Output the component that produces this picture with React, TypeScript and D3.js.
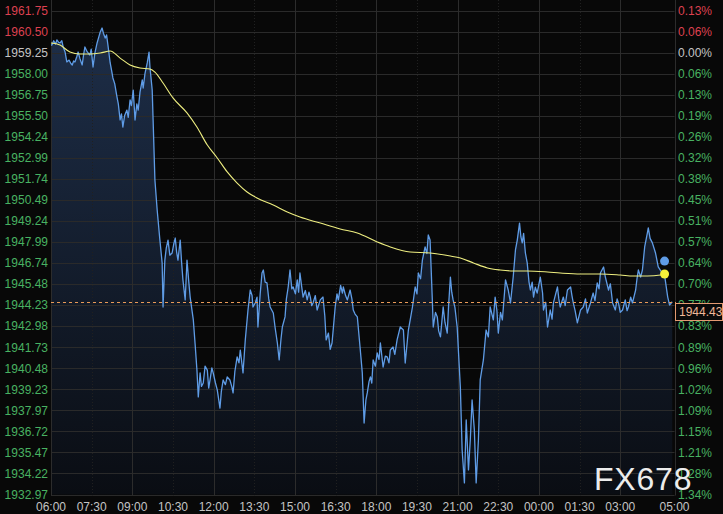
import React, { useEffect, useRef } from 'react';
import * as d3 from 'd3';

const WIDTH = 723;
const HEIGHT = 514;

// left axis price levels, top to bottom
const priceLabels = [
  '1961.75', '1960.50', '1959.25', '1958.00', '1956.75', '1955.50', '1954.24', '1952.99',
  '1951.74', '1950.49', '1949.24', '1947.99', '1946.74', '1945.48', '1944.23', '1942.98',
  '1941.73', '1940.48', '1939.23', '1937.97', '1936.72', '1935.47', '1934.22', '1932.97',
];

// right axis change vs previous close, same rows
const pctLabels = [
  '0.13%', '0.06%', '0.00%', '0.06%', '0.13%', '0.19%', '0.26%', '0.32%',
  '0.38%', '0.45%', '0.51%', '0.57%', '0.64%', '0.70%', '0.77%', '0.83%',
  '0.89%', '0.96%', '1.02%', '1.09%', '1.15%', '1.21%', '1.28%', '1.34%',
];
const ZERO_ROW = 2;

// minutes after 06:00
const timeTicks = [0, 90, 180, 270, 360, 450, 540, 630, 720, 810, 900, 990, 1080, 1170, 1260, 1380];
const timeLabels = [
  '06:00', '07:30', '09:00', '10:30', '12:00', '13:30', '15:00', '16:30',
  '18:00', '19:30', '21:00', '22:30', '00:00', '01:30', '03:00', '05:00',
];

// [minutes after 06:00, price]
const priceSeries: [number, number][] = [
  [0, 1959.70], [2, 1959.70], [6, 1959.95], [10, 1959.75], [13, 1960.00], [17, 1959.85], [20, 1959.82],
  [24, 1959.95], [27, 1959.58], [31, 1959.30], [35, 1958.69], [40, 1958.80], [44, 1958.60], [47, 1958.51],
  [50, 1958.75], [53, 1958.69], [57, 1959.00], [60, 1959.28], [64, 1958.90], [69, 1958.51], [72, 1959.10],
  [75, 1959.58], [80, 1959.30], [86, 1959.10], [89, 1959.45], [93, 1958.39], [97, 1959.20], [102, 1959.82],
  [106, 1960.20], [109, 1960.47], [113, 1960.71], [116, 1960.40], [120, 1960.11], [123, 1960.30], [126, 1959.70],
  [131, 1958.63], [134, 1958.20], [137, 1957.74], [141, 1957.40], [146, 1956.61], [149, 1956.20], [153, 1955.24],
  [156, 1955.60], [159, 1954.82], [163, 1955.50], [168, 1955.83], [171, 1955.40], [175, 1956.43], [178, 1956.10],
  [182, 1957.02], [186, 1955.24], [190, 1956.20], [193, 1955.83], [197, 1956.90], [202, 1957.62], [204, 1957.14],
  [208, 1958.00], [213, 1958.63], [217, 1959.28], [219, 1958.39], [224, 1957.02], [226, 1955.24], [230, 1951.67],
  [235, 1949.89], [237, 1949.29], [241, 1948.10], [246, 1946.74], [248, 1944.12], [252, 1946.91], [255, 1947.60],
  [259, 1948.10], [263, 1947.20], [268, 1947.33], [272, 1947.90], [275, 1948.22], [278, 1947.40], [281, 1946.91],
  [286, 1948.10], [289, 1946.80], [292, 1945.73], [297, 1944.54], [301, 1946.91], [305, 1945.60], [308, 1944.71],
  [315, 1943.35], [319, 1941.90], [323, 1940.37], [326, 1938.77], [330, 1940.20], [333, 1939.40], [337, 1939.60],
  [341, 1940.60], [346, 1940.37], [349, 1939.30], [352, 1939.78], [356, 1940.50], [359, 1940.20], [364, 1939.60],
  [368, 1939.19], [374, 1938.11], [377, 1939.10], [381, 1939.78], [386, 1939.50], [390, 1939.96], [396, 1939.78],
  [400, 1939.40], [403, 1939.01], [407, 1940.30], [412, 1941.15], [416, 1940.80], [419, 1941.56], [425, 1940.20],
  [430, 1942.16], [436, 1943.94], [441, 1945.13], [445, 1944.80], [447, 1944.12], [452, 1944.36], [456, 1944.71],
  [458, 1942.93], [463, 1944.90], [467, 1946.14], [470, 1946.32], [474, 1945.60], [478, 1945.55], [482, 1944.60],
  [485, 1944.12], [492, 1943.76], [496, 1942.90], [501, 1941.98], [505, 1940.97], [509, 1942.20], [512, 1942.93],
  [518, 1943.53], [521, 1944.60], [525, 1945.31], [529, 1946.32], [533, 1945.20], [536, 1945.31], [541, 1944.90],
  [545, 1945.73], [548, 1945.00], [551, 1946.14], [555, 1945.30], [558, 1944.71], [563, 1945.10], [567, 1944.54],
  [571, 1945.00], [574, 1944.71], [577, 1944.20], [580, 1944.36], [585, 1944.80], [589, 1943.94], [596, 1944.54],
  [602, 1944.71], [606, 1943.60], [609, 1942.16], [614, 1942.57], [618, 1941.60], [622, 1941.98], [626, 1943.20],
  [629, 1944.12], [633, 1944.90], [636, 1944.54], [641, 1945.40], [645, 1944.95], [647, 1945.31], [652, 1944.80],
  [656, 1944.54], [662, 1945.13], [666, 1944.60], [669, 1943.94], [673, 1943.70], [678, 1943.53], [684, 1941.74],
  [689, 1940.20], [693, 1937.22], [697, 1938.60], [700, 1939.01], [704, 1939.70], [707, 1939.96], [710, 1939.60],
  [713, 1940.97], [718, 1940.60], [722, 1941.39], [726, 1941.00], [729, 1941.98], [735, 1940.55], [740, 1941.20],
  [744, 1941.15], [748, 1940.80], [751, 1941.56], [757, 1941.74], [761, 1941.30], [766, 1942.16], [773, 1942.93],
  [780, 1942.75], [784, 1940.79], [791, 1942.75], [796, 1943.50], [800, 1944.12], [806, 1945.31], [810, 1944.90],
  [813, 1946.14], [818, 1945.80], [822, 1946.91], [828, 1947.69], [832, 1947.30], [835, 1948.40], [839, 1948.10],
  [844, 1944.54], [846, 1942.93], [851, 1943.80], [855, 1943.53], [858, 1942.70], [862, 1942.34], [868, 1944.12],
  [872, 1943.20], [877, 1942.57], [880, 1944.20], [884, 1945.90], [887, 1945.00], [890, 1944.54], [894, 1944.10],
  [899, 1942.93], [906, 1939.36], [910, 1935.62], [915, 1933.66], [919, 1937.40], [924, 1934.43], [928, 1936.21],
  [932, 1938.59], [937, 1936.81], [941, 1933.66], [946, 1936.21], [950, 1939.78], [957, 1940.97], [963, 1942.75],
  [968, 1942.34], [972, 1944.12], [979, 1943.35], [983, 1944.71], [987, 1943.90], [990, 1942.57], [995, 1943.80],
  [999, 1943.35], [1006, 1945.73], [1012, 1945.13], [1017, 1944.36], [1023, 1945.90], [1028, 1947.51], [1032, 1948.10],
  [1037, 1949.11], [1040, 1948.30], [1043, 1947.93], [1046, 1948.50], [1050, 1947.33], [1054, 1946.74], [1058, 1945.60],
  [1061, 1945.13], [1065, 1945.60], [1068, 1944.71], [1072, 1945.30], [1076, 1944.95], [1083, 1945.90], [1088, 1944.95],
  [1090, 1943.94], [1095, 1944.40], [1099, 1942.93], [1105, 1943.94], [1109, 1943.40], [1112, 1944.36], [1117, 1944.90],
  [1121, 1945.31], [1124, 1944.60], [1127, 1944.12], [1134, 1944.71], [1138, 1944.20], [1143, 1945.13], [1150, 1945.31],
  [1153, 1944.80], [1156, 1944.36], [1160, 1943.90], [1165, 1943.17], [1172, 1943.94], [1178, 1944.12], [1183, 1944.60],
  [1187, 1943.76], [1194, 1944.36], [1200, 1944.95], [1204, 1944.50], [1209, 1945.55], [1213, 1945.20], [1216, 1946.14],
  [1223, 1946.50], [1227, 1945.90], [1234, 1945.13], [1238, 1945.50], [1243, 1944.36], [1249, 1943.94], [1253, 1944.60],
  [1256, 1944.36], [1260, 1943.80], [1265, 1943.94], [1271, 1944.54], [1275, 1943.90], [1278, 1944.12], [1283, 1944.70],
  [1287, 1944.36], [1294, 1945.13], [1297, 1945.80], [1300, 1946.32], [1305, 1945.90], [1309, 1946.32], [1314, 1947.69],
  [1320, 1948.52], [1322, 1948.82], [1326, 1948.20], [1331, 1947.93], [1338, 1947.33], [1344, 1946.50], [1349, 1946.30],
  [1353, 1946.14], [1358, 1946.02], [1365, 1944.71], [1369, 1944.24], [1375, 1944.43],
];

// average price line
const avgSeries: [number, number][] = [
  [0, 1959.82], [20, 1959.70], [42, 1959.28], [64, 1959.16], [86, 1959.16], [109, 1959.22], [131, 1959.34],
  [153, 1958.92], [175, 1958.51], [197, 1958.33], [219, 1958.27], [230, 1958.09], [248, 1957.44], [270, 1956.55],
  [301, 1955.66], [323, 1954.82], [346, 1953.75], [368, 1952.98], [390, 1952.15], [412, 1951.49], [434, 1950.96],
  [456, 1950.60], [492, 1950.18], [523, 1949.77], [551, 1949.47], [596, 1949.11], [640, 1948.76], [678, 1948.52],
  [722, 1947.99], [751, 1947.69], [795, 1947.39], [839, 1947.33], [884, 1947.15], [906, 1947.03], [935, 1946.74],
  [966, 1946.44], [994, 1946.32], [1023, 1946.26], [1054, 1946.26], [1099, 1946.20], [1127, 1946.14], [1172, 1946.08],
  [1216, 1946.08], [1260, 1946.02], [1289, 1945.96], [1320, 1945.96], [1349, 1946.02], [1358, 1946.08],
];

const lastPrice = 1944.43;
const cursorTime = 1358;
const cursorPrice = 1946.85;

const RED = '#de4150';
const GREEN = '#48b262';
const GREY = '#c4c4c4';
const FONT = '"Liberation Sans", Arial, sans-serif';

function labelColor(i: number): string {
  if (i < ZERO_ROW) return RED;
  if (i === ZERO_ROW) return GREY;
  return GREEN;
}

const App: React.FC = () => {
  const svgRef = useRef<SVGSVGElement>(null);

  useEffect(() => {
    if (!svgRef.current) return;
    const svg = d3.select(svgRef.current);
    svg.selectAll('*').remove();

    const x = d3.scaleLinear().domain([0, 1380]).range([51, 674.5]);
    const y = d3.scaleLinear().domain([1932.97, 1961.75]).range([494.5, 10.5]);
    const crisp = (v: number) => Math.round(v) + 0.5;

    svg.append('rect').attr('width', WIDTH).attr('height', HEIGHT).attr('fill', '#080808');

    const defs = svg.append('defs');
    const grad = defs.append('linearGradient')
      .attr('id', 'areaFill')
      .attr('gradientUnits', 'userSpaceOnUse')
      .attr('x1', 0).attr('x2', 0)
      .attr('y1', y(1961.75)).attr('y2', y(1932.97));
    grad.append('stop').attr('offset', '0%').attr('stop-color', '#1e2f4a');
    grad.append('stop').attr('offset', '100%').attr('stop-color', '#0a0d13');

    // area under the price line
    const area = d3.area<[number, number]>()
      .x(d => x(d[0]))
      .y0(y(1932.97))
      .y1(d => y(d[1]));
    svg.append('path').datum(priceSeries).attr('d', area).attr('fill', 'url(#areaFill)');

    // horizontal grid
    const grid = svg.append('g');
    grid.selectAll('line.h')
      .data(priceLabels)
      .join('line')
      .attr('class', 'h')
      .attr('x1', x(0)).attr('x2', x(1380))
      .attr('y1', d => crisp(y(+d))).attr('y2', d => crisp(y(+d)))
      .attr('stroke', '#2a2a2a')
      .attr('stroke-width', 1);

    // vertical grid: solid every 3h, dotted in between
    const vTicks = [...timeTicks.slice(0, -1), 1380];
    grid.selectAll('line.v')
      .data(vTicks)
      .join('line')
      .attr('class', 'v')
      .attr('x1', d => crisp(x(d))).attr('x2', d => crisp(x(d)))
      .attr('y1', 0).attr('y2', crisp(y(1932.97)))
      .attr('stroke', d => (d % 180 === 0 || d === 1380 ? '#2c2c2c' : '#202020'))
      .attr('stroke-dasharray', d => (d % 180 === 0 || d === 1380 ? null : '1,2'))
      .attr('stroke-width', 1);

    // price line
    const line = d3.line<[number, number]>().x(d => x(d[0])).y(d => y(d[1]));
    svg.append('path').datum(priceSeries)
      .attr('d', line)
      .attr('fill', 'none')
      .attr('stroke', '#5f9ce6')
      .attr('stroke-width', 1.3)
      .attr('stroke-linejoin', 'round');

    // average line
    const avgLine = d3.line<[number, number]>().x(d => x(d[0])).y(d => y(d[1])).curve(d3.curveMonotoneX);
    svg.append('path').datum(avgSeries)
      .attr('d', avgLine)
      .attr('fill', 'none')
      .attr('stroke', '#eeee80')
      .attr('stroke-width', 1.1);

    // last price dashed line
    svg.append('line')
      .attr('x1', x(0)).attr('x2', 676)
      .attr('y1', crisp(y(lastPrice))).attr('y2', crisp(y(lastPrice)))
      .attr('stroke', '#e89a58')
      .attr('stroke-dasharray', '3,3')
      .attr('stroke-width', 1);

    // markers
    svg.append('circle')
      .attr('cx', x(cursorTime)).attr('cy', y(cursorPrice)).attr('r', 4.5)
      .attr('fill', '#5f9ce6');
    const lastAvg = avgSeries[avgSeries.length - 1];
    svg.append('circle')
      .attr('cx', x(lastAvg[0])).attr('cy', y(lastAvg[1])).attr('r', 4.5)
      .attr('fill', '#f4f03a');

    // left axis labels
    svg.append('g').selectAll('text')
      .data(priceLabels)
      .join('text')
      .attr('x', 48)
      .attr('y', d => y(+d))
      .attr('dy', '0.36em')
      .attr('text-anchor', 'end')
      .attr('font-family', FONT)
      .attr('font-size', 12)
      .attr('fill', (_, i) => labelColor(i))
      .text(d => d);

    // right axis labels
    svg.append('g').selectAll('text')
      .data(pctLabels)
      .join('text')
      .attr('x', 678)
      .attr('y', (_, i) => y(+priceLabels[i]))
      .attr('dy', '0.36em')
      .attr('font-family', FONT)
      .attr('font-size', 12)
      .attr('fill', (_, i) => labelColor(i))
      .text(d => d);

    // time labels
    svg.append('g').selectAll('text')
      .data(timeTicks)
      .join('text')
      .attr('x', d => x(d))
      .attr('y', 507)
      .attr('dy', '0.36em')
      .attr('text-anchor', 'middle')
      .attr('font-family', FONT)
      .attr('font-size', 12)
      .attr('fill', GREY)
      .text((_, i) => timeLabels[i]);

    // last price tag
    const tagY = y(lastPrice);
    svg.append('rect')
      .attr('x', 675.5).attr('y', Math.round(tagY) + 1.5)
      .attr('width', 47).attr('height', 17)
      .attr('fill', '#0a0a0a')
      .attr('stroke', '#e39a72')
      .attr('stroke-width', 1);
    svg.append('text')
      .attr('x', 679)
      .attr('y', Math.round(tagY) + 10)
      .attr('dy', '0.36em')
      .attr('font-family', FONT)
      .attr('font-size', 12)
      .attr('fill', '#f0b898')
      .text(lastPrice.toFixed(2));

    // watermark
    svg.append('text')
      .attr('x', 594)
      .attr('y', 490)
      .attr('font-family', FONT)
      .attr('font-size', 32)
      .attr('letter-spacing', 0.8)
      .attr('fill', '#ececec')
      .text('FX678');
  }, []);

  return (
    <div style={{ position: 'absolute', left: 0, top: 0, width: WIDTH, height: HEIGHT, background: '#080808' }}>
      <svg ref={svgRef} width={WIDTH} height={HEIGHT} style={{ display: 'block' }} />
    </div>
  );
};

export default App;
